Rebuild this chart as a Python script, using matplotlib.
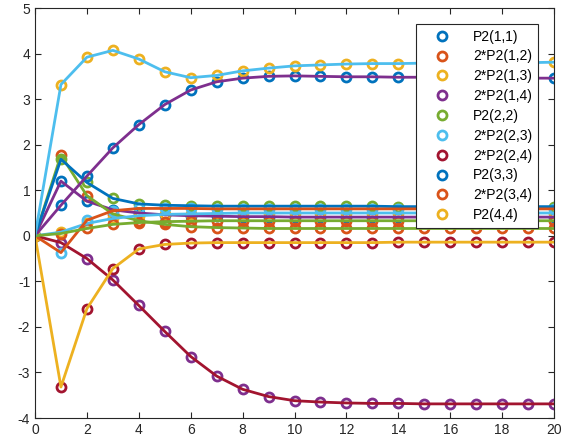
import numpy as np
import matplotlib
matplotlib.use('Agg')
import matplotlib.pyplot as plt

plt.rcParams['font.family'] = ['Liberation Sans', 'DejaVu Sans']
plt.rcParams['axes.unicode_minus'] = False

t = np.arange(0, 21)

labels = ['P2(1,1)', '2*P2(1,2)', '2*P2(1,3)', '2*P2(1,4)', 'P2(2,2)',
          '2*P2(2,3)', '2*P2(2,4)', 'P2(3,3)', '2*P2(3,4)', 'P2(4,4)']

p11 = [0, 1.20, 0.76, 0.57, 0.50, 0.46, 0.44, 0.43, 0.42, 0.42] + [0.41] * 11
p12 = [0, 1.77, 0.88, 0.48, 0.33, 0.25, 0.20, 0.18, 0.17] + [0.16] * 12
p13 = [0, 0.08, 0.27, 0.38, 0.44, 0.47, 0.48, 0.49] + [0.50] * 13
p14 = [0, -0.15, -0.50, -0.97, -1.53, -2.10, -2.65, -3.08, -3.37, -3.53,
       -3.62, -3.65, -3.67, -3.68, -3.68] + [-3.69] * 6
p22 = [0, 1.68, 1.17, 0.82, 0.70, 0.67, 0.66] + [0.65] * 7 + [0.64] * 7
p23 = [0, -0.37, 0.34, 0.55, 0.60, 0.60, 0.60] + [0.59] * 14
p24 = [0, -3.32, -1.60, -0.72, -0.29, -0.19, -0.16] + [-0.15] * 7 + [-0.14] * 7
p33 = [0, 0.67, 1.31, 1.93, 2.44, 2.88, 3.20, 3.38, 3.46, 3.50, 3.51, 3.50,
       3.49, 3.49, 3.48, 3.48, 3.47, 3.47, 3.46, 3.46, 3.46]
p34 = [0, 0.05, 0.16, 0.25, 0.29, 0.31, 0.32] + [0.33] * 14
p44 = [0, 3.32, 3.92, 4.07, 3.88, 3.60, 3.47, 3.52, 3.62, 3.68, 3.73, 3.75,
       3.77, 3.78, 3.78, 3.79, 3.79, 3.80, 3.80, 3.80, 3.81]

series = [p11, p12, p13, p14, p22, p23, p24, p33, p34, p44]

# octave default colororder
colors = ['#0072BD', '#D95319', '#EDB120', '#7E2F8E', '#77AC30', '#4DBEEE', '#A2142F']

fig = plt.figure(figsize = (5.77, 4.48), dpi = 100)
ax = fig.add_axes([35 / 577, 30 / 448, 519 / 577, 410 / 448])

handles = []
k = 0
for s in series:
    h, = ax.plot(t, s, 'o', mfc = 'none', mec = colors[k % 7], ms = 6.5, mew = 2)
    handles.append(h)
    k += 1
# lines continue the colour cycle after the markers
for s in series:
    ax.plot(t, s, '-', color = colors[k % 7], lw = 2)
    k += 1

ax.set_xlim(0, 20)
ax.set_ylim(-4, 5)
ax.set_xticks(range(0, 21, 2))
ax.set_yticks(range(-4, 6))
ax.tick_params(direction = 'in', length = 4, top = True, right = True,
               labelsize = 10, colors = '#262626', width = 0.8)
for sp in ax.spines.values():
    sp.set_color('#262626')
    sp.set_linewidth(0.8)

leg = ax.legend(handles, labels, loc = 'upper right', bbox_to_anchor = (0.969, 0.961),
                borderaxespad = 0, fontsize = 10, handlelength = 2.9, handletextpad = 0.8,
                labelspacing = 0.42, fancybox = False, framealpha = 1, edgecolor = '#262626')
leg.get_frame().set_linewidth(0.8)

plt.savefig('out.png', dpi = 100)
